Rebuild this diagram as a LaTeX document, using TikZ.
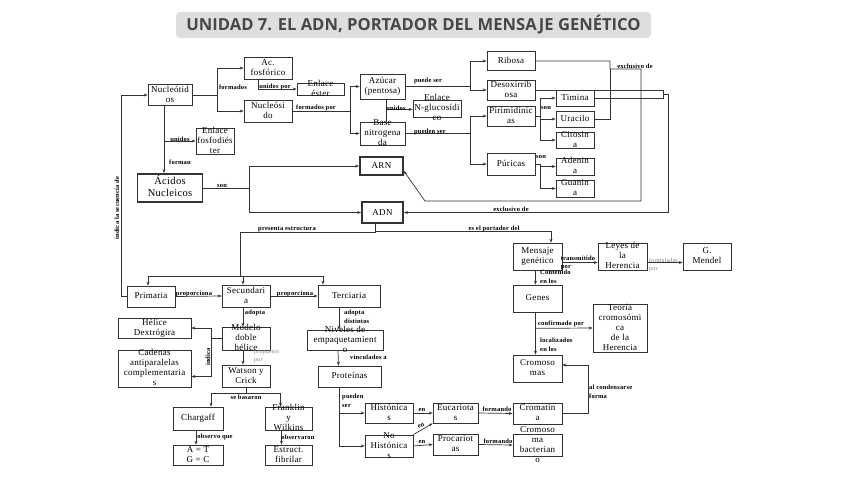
\documentclass[tikz,border=0pt]{standalone}
\usepackage{fontspec}
\setmainfont{Liberation Serif}[LetterSpace=3]
\newfontfamily\titlefont{Open Sans}
\usetikzlibrary{arrows.meta,calc}
\newcommand{\boxtxt}[1]{\smash{\raisebox{-0.25em}{\begin{tabular}{@{}c@{}}#1\end{tabular}}}}

\begin{document}
\begin{tikzpicture}[x=1pt,y=-1pt,
  box/.style={
    rectangle,
    draw=black!80,
    line width=0.7pt,
    fill=white,
    inner sep=0pt,
    minimum width=48pt,
    minimum height=21pt,
    font=\fontsize{9}{10}\selectfont
  },
  key/.style={box, line width=1.8pt},
  dim/.style 2 args={minimum width=#1pt, minimum height=#2pt},
  lbl/.style={inner sep=0pt, align=left, font=\fontsize{6.5}{8.5}\selectfont\bfseries},
  note/.style={lbl, font=\fontsize{6}{8}\selectfont, text=black!50},
  wire/.style={draw=black!80, line width=0.7pt},
  conn/.style={wire, -{Stealth[length=4pt,width=3pt]}},
  titlebox/.style={
    rectangle,
    fill=black!13,
    rounded corners=4pt,
    minimum width=475pt,
    minimum height=26pt,
    text=black!72,
    font=\fontsize{16.6}{18}\selectfont\titlefont\bfseries
  }
]
\useasboundingbox (0,0) rectangle (848,477);
\fill[white] (0,0) rectangle (848,477);

%titulo
\node[titlebox] (title) at (413.5,25) {UNIDAD 7. EL ADN, PORTADOR DEL MENSAJE GENÉTICO};

%nucleotidos
\node[box, dim={44}{21}] (nucl) at (170,95) {\boxtxt{Nucleótid\\os}};
\node[box, dim={48}{22}] (acf) at (268,68) {\boxtxt{Ac.\\fosfórico}};
\node[box, dim={48}{22}] (nucs) at (268,111) {\boxtxt{Nucleósi\\do}};
\node[box, dim={47}{12}] (ester) at (320.5,89) {\boxtxt{Enlace\\éster}};
\node[box, dim={45}{25}] (azu) at (382.5,86.5) {\boxtxt{Azúcar\\(pentosa)}};
\node[box, dim={45}{23}] (base) at (382.5,133.5) {\boxtxt{Base\\nitrogena\\da}};
\node[box, dim={48}{17}] (nglu) at (437,108.5) {\boxtxt{Enlace\\N-glucosídi\\co}};
\node[box, dim={38}{26}] (fosf) at (215,141) {\boxtxt{Enlace\\fosfodiés\\ter}};

%acidos nucleicos
\node[key, dim={65}{28}, font=\fontsize{10.5}{12}\selectfont] (acn) at (170,188) {\boxtxt{Ácidos\\Nucleicos}};
\node[key, dim={43}{18}] (arn) at (381.5,166) {ARN};
\node[key, dim={41}{21}] (adn) at (382.5,212.5) {ADN};

%azucares y bases
\node[box, dim={48}{19}] (rib) at (511,61) {\boxtxt{Ribosa}};
\node[box, dim={48}{20}] (des) at (511,90) {\boxtxt{Desoxirrib\\osa}};
\node[box, dim={48}{20}] (pir) at (511,116) {\boxtxt{Pirimidínic\\as}};
\node[box, dim={48}{22}] (pur) at (511,164) {\boxtxt{Púricas}};
\node[box, dim={38}{16}] (tim) at (575,98) {\boxtxt{Timina}};
\node[box, dim={38}{16}] (ura) at (575,119) {\boxtxt{Uracilo}};
\node[box, dim={38}{16}] (cit) at (575,140) {\boxtxt{Citosin\\a}};
\node[box, dim={38}{17}] (ade) at (575,166.5) {\boxtxt{Adenin\\a}};
\node[box, dim={38}{17}] (gua) at (575,188.5) {\boxtxt{Guanin\\a}};

%mensaje genetico
\node[box, dim={49}{27}] (mens) at (537.5,256.5) {\boxtxt{Mensaje\\genético}};
\node[box, dim={49}{27}] (leyes) at (622.5,256.5) {\boxtxt{Leyes de\\la\\Herencia}};
\node[box, dim={48}{27}] (mendel) at (707,256.5) {\boxtxt{G.\\Mendel}};
\node[box, dim={49}{27}] (genes) at (537.5,298.5) {\boxtxt{Genes}};
\node[box, dim={54}{48}] (teoria) at (620,328) {\boxtxt{Teoría\\cromosómi\\ca\\de la\\Herencia}};
\node[box, dim={49}{27}] (cromos) at (537.5,368.5) {\boxtxt{Cromoso\\mas}};
\node[box, dim={49}{21}] (cromat) at (537.5,413.5) {\boxtxt{Cromatin\\a}};
\node[box, dim={49}{22}] (cbact) at (537.5,445) {\boxtxt{Cromoso\\ma\\bacterian\\o}};

%estructuras
\node[box, dim={48}{21}] (prim) at (151,296.5) {\boxtxt{Primaria}};
\node[box, dim={48}{22}] (sec) at (246,296) {\boxtxt{Secundari\\a}};
\node[box, dim={62}{22}] (ter) at (349,296) {\boxtxt{Terciaria}};
\node[box, dim={73}{20}] (helice) at (154.5,328) {\boxtxt{Hélice\\Dextrógira}};
\node[box, dim={73}{37}] (cadenas) at (154.5,368.5) {\boxtxt{Cadenas\\antiparalelas\\complementaria\\s}};
\node[box, dim={48}{23}] (modelo) at (246,338.5) {\boxtxt{Modelo\\doble\\hélice}};
\node[box, dim={48}{22}] (watson) at (246,376) {\boxtxt{Watson y\\Crick}};
\node[box, dim={50}{23}] (charg) at (198,418.5) {\boxtxt{Chargaff}};
\node[box, dim={47}{23}] (frank) at (288.5,418.5) {\boxtxt{Franklin\\y\\Wilkins}};
\node[box, dim={50}{20}] (at) at (198,455) {\boxtxt{A = T\\G = C}};
\node[box, dim={47}{20}] (fibr) at (288.5,455) {\boxtxt{Estruct.\\fibrilar}};
\node[box, dim={76}{20}] (niv) at (345,340) {\boxtxt{Niveles de\\empaquetamient\\o}};
\node[box, dim={63}{21}] (prot) at (349.5,376.5) {\boxtxt{Proteínas}};
\node[box, dim={48}{20}] (hist) at (389,413) {\boxtxt{Histónica\\s}};
\node[box, dim={48}{22}] (nohist) at (389,446) {\boxtxt{No\\Histónica\\s}};
\node[box, dim={45}{20}] (euc) at (455.5,413) {\boxtxt{Eucariota\\s}};
\node[box, dim={45}{21}] (proc) at (455.5,444.5) {\boxtxt{Procariot\\as}};

%flechas arriba
\draw[conn] (nucl.east) -- ++(25,0) |- (acf.west);
\draw[conn] (nucl.east) -- ++(25,0) |- (nucs.west);
\draw[conn] ([xshift=-10pt]acf.south) |- (ester.west);
\draw[conn] (nucs.east) -- ++(58,0) |- (azu.west);
\draw[conn] (nucs.east) -- ++(58,0) |- (base.west);
\draw[wire] ([xshift=3.5pt]azu.south) -- ([xshift=3.5pt]base.north);
\coordinate (jglu) at ([xshift=3.5pt,yshift=-10pt]azu.south);
\draw[conn] (jglu) -- (jglu -| nglu.west);
\draw[conn] (azu.east) -- ++(65,0) |- (rib.west);
\draw[conn] (azu.east) -- ++(65,0) |- (des.west);
\draw[conn] (base.east) -- ++(65,0) |- (pir.west);
\draw[conn] (base.east) -- ++(65,0) |- (pur.west);
\draw[conn] (pir.east) -- ++(5,0) |- (tim.west);
\draw[conn] (pir.east) -- ++(5,0) |- (ura.west);
\draw[conn] (pir.east) -- ++(5,0) |- (cit.west);
\draw[conn] (pur.east) -- ++(5,0) |- (ade.west);
\draw[conn] (pur.east) -- ++(5,0) |- (gua.west);

%exclusivo de
\draw[conn] (rib.east) -| (610,69) -- (641,69) -- (641,201) -- (425,201) -- ([yshift=-5pt]arn.east);
\draw[wire] (ura.east) -| (610,69);
\draw[conn] (des.east) -| (663,94) -- (668,94) |- (adn.east);
\draw[wire] (tim.east) -| (663,94);

%nucleotidos forman
\draw[conn] ([xshift=-6pt]nucl.south) -- ([xshift=-6pt]acn.north);
\draw[conn] ([xshift=-6pt]nucl.south) |- (fosf.west);
\draw[conn] (acn.east) -- ++(46,0) |- (arn.west);
\draw[conn] (acn.east) -- ++(46,0) |- (adn.west);

%ADN
\draw[conn] ([xshift=-7pt]adn.south) |- ([xshift=13.5pt,yshift=11pt]mens.north) -- ([xshift=13.5pt]mens.north);
\draw[wire] ([xshift=-7pt]adn.south) |- (240,232) -- (240,276);
\draw[conn] (240,276) -| ([xshift=-3pt]prim.north);
\draw[conn] (240,276) -| ([xshift=-3pt]sec.north);
\draw[conn] (240,276) -| ([xshift=-26pt]ter.north);
\draw[conn] (prim.east) -- (sec.west);
\draw[conn] (sec.east) -- (ter.west);
\draw[conn] (prim.west) -- ++(-5,0) |- (nucl.west);

%modelo doble helice
\draw[conn] ([xshift=-3pt]sec.south) -- ([xshift=-3pt]modelo.north);
\draw[conn] (modelo.west) -- ++(-10,0) |- (helice.east);
\draw[conn] (modelo.west) -- ++(-10,0) |- ([yshift=-8pt]cadenas.east);
\draw[conn] ([xshift=-3pt]modelo.south) -- ([xshift=-3pt]watson.north);
\draw[conn] (watson.south) -- ++(0,6) -| ([xshift=13pt]charg.north);
\draw[conn] (watson.south) -- ++(0,6) -| ([xshift=-8pt]frank.north);
\draw[conn] ([xshift=-2pt]charg.south) -- ([xshift=-2pt]at.north);
\draw[conn] ([xshift=-7pt]frank.south) -- ([xshift=-7pt]fibr.north);

%terciaria
\draw[conn] ([xshift=-10pt]ter.south) -- ([xshift=-6pt]niv.north);
\draw[conn] ([xshift=-7pt]niv.south) -- ([xshift=-11pt]prot.north);
\draw[conn] ([xshift=-10.5pt]prot.south) |- (hist.west);
\draw[conn] ([xshift=-10.5pt]prot.south) |- (nohist.west);
\draw[conn] (hist.east) -- (euc.west);
\draw[conn] (nohist.north east) -- (euc.south west);
\draw[conn] (nohist.east) -- (proc.west);
\draw[conn] (euc.east) -- (cromat.west);
\draw[conn] (proc.east) -- (cbact.west);
\draw[conn] (cromat.east) -- ++(26,0) |- ([yshift=3.5pt]cromos.east);

%mensaje
\draw[conn] ([yshift=-6pt]mens.east) -- ([yshift=-6pt]leyes.west);
\draw[conn] ([yshift=-6pt]leyes.east) -- ([yshift=-6pt]mendel.west);
\draw[conn] ([xshift=-2pt]mens.south) -- ([xshift=-2pt]genes.north);
\draw[conn] ([xshift=-2pt]genes.south) -- ([xshift=-2pt]cromos.north);
\draw[conn] ($(genes.south)+(-2,16)$) -- (teoria.west);

%etiquetas
\node[lbl] (lform) at (233,87) {formados};
\node[lbl] (lunip) at (275,87) {unidos por};
\node[lbl] (lformp) at (316,108) {formados por};
\node[lbl] (luni) at (396,108) {unidos};
\node[lbl] (lpuede) at (428,81) {puede ser};
\node[lbl] (lpueden) at (430,132) {pueden ser};
\node[lbl] (lson1) at (546,108) {son};
\node[lbl] (lson2) at (541,157) {son};
\node[lbl] (lexc1) at (635,66) {exclusivo de};
\node[lbl] (lexc2) at (511,209) {exclusivo de};
\node[lbl] (luni2) at (180,139) {unidos};
\node[lbl] (lforman) at (180,162) {forman};
\node[lbl] (lson3) at (222,186) {son};
\node[lbl, rotate=90] (lsecu) at (117,208) {indica la secuencia de};
\node[lbl] (lpres) at (287,229) {presenta estructura};
\node[lbl] (lport) at (494,229) {es el portador del};
\node[lbl] (lprop1) at (194,294) {proporciona};
\node[lbl] (lprop2) at (295,294) {proporciona};
\node[lbl] (ladop) at (255,313) {adopta};
\node[lbl, rotate=90] (lind) at (208,357) {indica};
\node[note, anchor=west] (lpropu) at (254,356) {propuesto\\por};
\node[lbl] (lbas) at (246,397) {se basaron};
\node[lbl] (lobs1) at (215,437) {observo que};
\node[lbl] (lobs2) at (298,437) {observaron};
\node[lbl, anchor=west] (ldist) at (344,317) {adopta\\distintos};
\node[lbl, anchor=west] (lvinc) at (350,357) {vinculados a};
\node[lbl, anchor=west] (lpser) at (342,401) {pueden\\ser};
\node[lbl] (len1) at (422,410) {en};
\node[lbl, rotate=30] (len2) at (421,426) {en};
\node[lbl] (len3) at (422,442) {en};
\node[lbl] (lfor1) at (497,409) {formando};
\node[lbl] (lfor2) at (498,441) {formando};
\node[lbl, anchor=west] (lcond) at (589,392) {al condensarse\\forma};
\node[lbl] (ltrans) at (578,263) {transmitido\\por};
\node[note, anchor=west] (lformu) at (649,265) {formuladas\\por};
\node[lbl, anchor=west] (lcont) at (540,277) {Contenido\\en los};
\node[lbl] (lconf) at (561,324) {confirmado por};
\node[lbl, anchor=west] (lloc) at (540,345) {localizados\\en los};
\end{tikzpicture}
\end{document}
